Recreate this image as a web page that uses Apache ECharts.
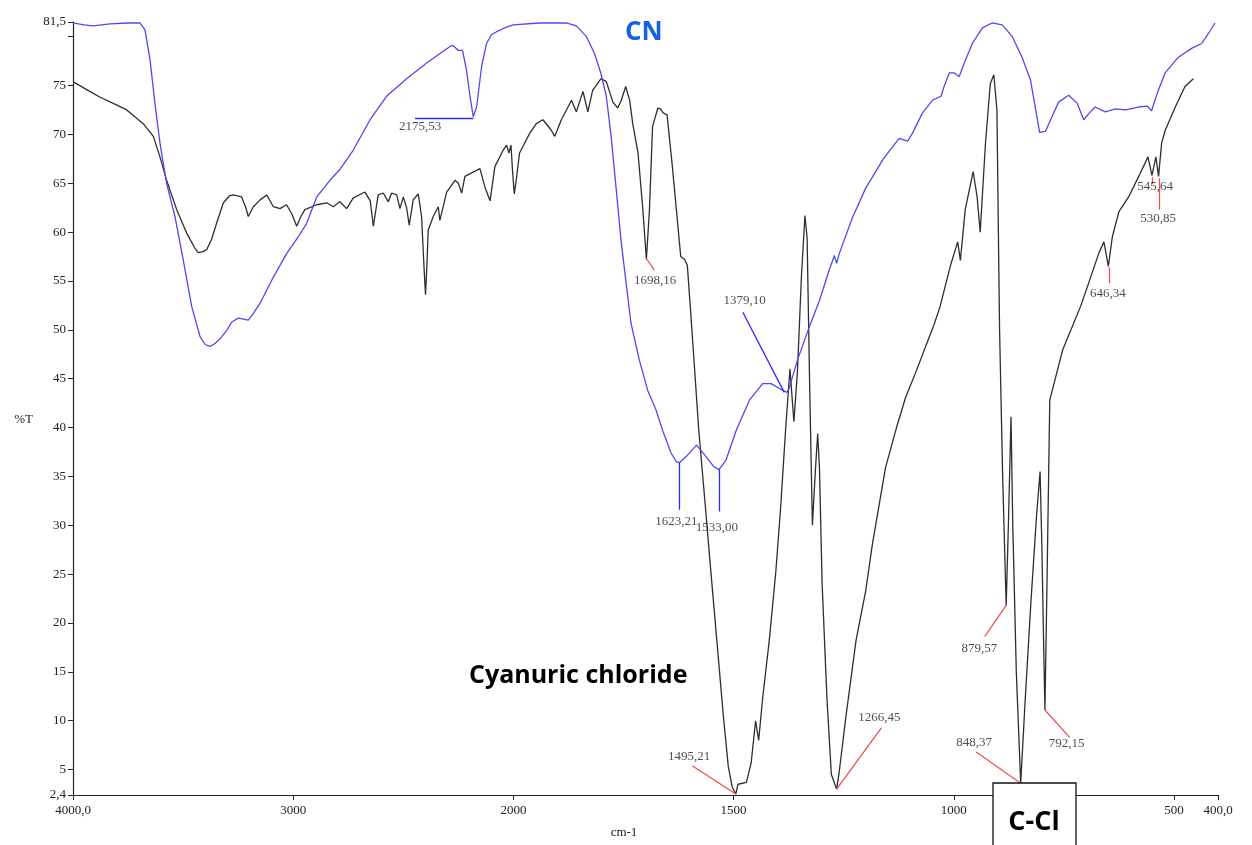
<!DOCTYPE html>
<html>
<head>
<meta charset="utf-8">
<script src="https://cdn.jsdelivr.net/npm/echarts@6/dist/echarts.min.js"></script>
<style>
html,body{margin:0;padding:0;background:#fff;}
#chart{width:1252px;height:845px;}
</style>
</head>
<body>
<div id="chart"></div>
<script>
// ---- Data (wavenumber cm-1, %T) ----
const cnSpectrum = [
[4000,81.4],[3950,81.2],[3909,81.1],[3832,81.3],[3750,81.4],[3696,81.4],[3673,80.7],[3650,77.6],[3628,73.2],[3605,69.1],
[3575,65.0],[3537,61.6],[3499,57.1],[3461,52.4],[3423,49.3],[3400,48.5],[3378,48.3],[3355,48.6],[3332,49.1],[3300,50.0],
[3279,50.8],[3249,51.2],[3225,51.1],[3204,51.0],[3180,51.7],[3151,52.7],[3090,55.4],[3030,57.8],[2977,59.5],[2939,60.9],
[2893,63.6],[2833,65.3],[2788,66.4],[2727,68.4],[2651,71.5],[2576,73.9],[2485,75.7],[2394,77.3],[2288,79.0],[2274,79.1],
[2251,78.6],[2231,78.6],[2213,76.6],[2197,73.9],[2182,71.8],[2167,72.8],[2144,77.0],[2122,79.3],[2100,80.2],[2076,80.5],
[2040,80.9],[2001,81.2],[1941,81.4],[1880,81.4],[1857,81.1],[1834,80.0],[1816,78.3],[1801,76.2],[1789,73.9],[1778,69.8],
[1767,64.6],[1755,58.9],[1744,54.8],[1733,50.7],[1714,46.9],[1695,43.8],[1676,41.8],[1661,39.7],[1642,37.4],[1630,36.5],
[1623,36.4],[1604,37.2],[1584,38.2],[1562,37.0],[1545,36.0],[1533,35.7],[1517,36.7],[1494,39.7],[1464,42.8],[1434,44.5],
[1415,44.5],[1396,44.0],[1379,43.6],[1374,44.0],[1355,46.9],[1328,50.3],[1305,53.0],[1283,56.1],[1271,57.6],[1266,56.8],
[1260,57.8],[1230,61.5],[1200,64.5],[1160,67.5],[1124,69.6],[1105,69.3],[1094,70.1],[1071,72.2],[1048,73.5],[1029,73.9],
[1022,74.9],[1010,76.3],[999,76.3],[988,75.9],[976,77.3],[958,79.3],[935,80.9],[913,81.4],[890,81.2],[867,80.0],
[845,77.9],[826,75.6],[815,72.8],[805,70.2],[792,70.3],[777,71.8],[762,73.3],[739,74.0],[720,73.2],[705,71.5],
[690,72.3],[679,72.8],[656,72.3],[633,72.6],[610,72.5],[580,72.8],[561,72.9],[551,72.4],[538,74.2],[520,76.3],
[490,77.9],[460,78.8],[437,79.3],[422,80.3],[407,81.4]
];

const cyanuricChlorideSpectrum = [
[4000,75.4],[3940,74.6],[3877,73.8],[3800,73.0],[3756,72.5],[3681,71.1],[3635,69.8],[3605,67.7],[3575,65.3],[3529,62.3],
[3484,59.9],[3445,58.3],[3431,57.9],[3410,58.0],[3393,58.2],[3370,59.3],[3348,60.9],[3317,63.0],[3290,63.7],[3272,63.8],
[3234,63.6],[3215,62.5],[3204,61.6],[3181,62.6],[3150,63.3],[3120,63.8],[3090,62.6],[3060,62.4],[3030,62.8],[3005,61.8],
[2984,60.6],[2965,61.6],[2947,62.3],[2893,62.8],[2848,63.0],[2818,62.6],[2788,63.1],[2757,62.4],[2727,63.5],[2674,64.1],
[2650,63.2],[2636,60.6],[2614,63.8],[2591,64.0],[2568,63.1],[2553,64.0],[2530,63.8],[2515,62.4],[2500,63.6],[2485,62.5],
[2473,60.7],[2455,63.3],[2432,63.9],[2417,61.6],[2405,56.0],[2399,53.6],[2392,57.0],[2387,60.2],[2364,61.6],[2341,62.6],
[2334,61.2],[2303,64.1],[2265,65.3],[2250,65.0],[2235,64.0],[2220,65.7],[2152,66.5],[2129,64.6],[2106,63.2],[2084,66.7],
[2046,68.4],[2031,68.9],[2020,68.1],[2011,68.9],[2003,66.0],[1998,63.9],[1993,65.5],[1986,68.1],[1963,70.1],[1948,71.1],
[1933,71.5],[1915,70.5],[1906,69.8],[1891,71.5],[1868,73.5],[1857,72.3],[1842,74.4],[1831,72.3],[1820,74.5],[1801,75.7],
[1789,75.4],[1774,73.3],[1763,72.7],[1755,73.5],[1745,74.9],[1736,73.5],[1729,71.1],[1717,68.1],[1706,62.3],[1698,57.2],
[1691,62.3],[1684,70.8],[1672,72.7],[1666,72.6],[1660,72.2],[1651,72.0],[1639,66.7],[1620,57.5],[1611,57.2],[1605,56.6],
[1594,49.6],[1579,39.7],[1564,31.9],[1553,26.0],[1538,18.2],[1523,10.4],[1512,5.3],[1503,3.2],[1495,2.5],[1490,3.5],
[1471,3.7],[1460,5.7],[1450,10.0],[1443,8.0],[1434,12.3],[1419,18.2],[1404,25.3],[1393,31.9],[1382,39.7],[1372,46.0],
[1363,40.6],[1355,45.7],[1346,55.4],[1338,61.7],[1333,59.4],[1327,43.7],[1321,30.0],[1314,35.8],[1309,39.4],[1305,35.9],
[1299,24.1],[1288,12.3],[1278,4.5],[1266,3.0],[1260,4.8],[1245,10.4],[1222,18.2],[1200,23.3],[1185,28.0],[1155,35.9],
[1130,40.0],[1110,43.0],[1085,45.8],[1064,48.3],[1045,50.5],[1031,52.4],[1008,56.5],[991,59.0],[985,57.1],[974,62.3],
[956,66.2],[947,63.6],[940,60.0],[928,69.1],[917,75.2],[909,76.1],[902,72.5],[896,50.0],[889,35.0],[881,21.8],
[876,30.0],[870,41.1],[866,30.0],[858,15.0],[848,3.6],[838,12.0],[825,22.0],[812,31.0],[804,35.5],[800,28.0],
[796,18.0],[793,11.1],[788,25.0],[782,42.8],[753,47.9],[712,52.4],[686,55.8],[671,57.8],[659,59.0],[649,56.5],
[640,59.5],[625,62.1],[603,63.6],[580,65.7],[559,67.7],[550,65.8],[541,67.7],[535,65.7],[528,69.1],[520,70.4],
[497,72.8],[475,74.9],[456,75.7]
];

// x tick wavenumbers and their printed labels
const xTickWavenumbers = [4000,3000,2000,1500,1000,500,400];
const xTickLabels = ['4000,0','3000','2000','1500','1000','500','400,0'];
// y ticks
const yLabelValues = [2.4,5,10,15,20,25,30,35,40,45,50,55,60,65,70,75,81.5];
const yTickValues = [2.4,5,10,15,20,25,30,35,40,45,50,55,60,65,70,75,80,81.5];

// peak annotations: peak point, leader end, label anchor
const cnPeakLabels = [
  {text:'2175,53', peak:[2182,71.7], end:[2447,71.7], at:[2424,70.8]},
  {text:'1623,21', peak:[1623,36.4], end:[1623,31.6], at:[1630,30.4]},
  {text:'1533,00', peak:[1533,35.7], end:[1533,31.4], at:[1538,29.8]},
  {text:'1379,10', peak:[1385,43.6], end:[1479,51.8], at:[1475,53.0]}
];
const ccPeakLabels = [
  {text:'1698,16', peak:[1698,57.3], end:[1680,56.1], at:[1678,55.0]},
  {text:'1495,21', peak:[1495,2.5], end:[1594,5.4], at:[1601,6.3]},
  {text:'1266,45', peak:[1266,3.0], end:[1164,9.3], at:[1169,10.3]},
  {text:'879,57', peak:[881,21.8], end:[930,18.6], at:[942,17.4]},
  {text:'848,37', peak:[848,3.6], end:[949,6.8], at:[954,7.8]},
  {text:'792,15', peak:[793,11.1], end:[737,8.3], at:[744,7.7]},
  {text:'646,34', peak:[647,56.4], end:[647,54.8], at:[650,53.7]},
  {text:'545,64', peak:[550,65.6], end:[550,64.9], at:[543,64.7]},
  {text:'530,85', peak:[533,65.5], end:[533,62.3], at:[536,61.4]}
];

// ---- Piecewise wavenumber scale (scale change at 2000 cm-1) ----
function toU(wn){ return wn >= 2000 ? (4000 - wn) / 2 : 1000 + (2000 - wn); }
const xTickU = xTickWavenumbers.map(toU);
function fmtComma(v){ return String(v).replace('.', ','); }

const serif = '"Liberation Serif", "DejaVu Serif", serif';

function leaderData(list, color){
  return list.map(m => ({coords:[[toU(m.peak[0]), m.peak[1]],[toU(m.end[0]), m.end[1]]], lineStyle:{color:color}}));
}
function labelData(list){
  return list.map(m => ({name:m.text, value:[toU(m.at[0]), m.at[1]]}));
}

const chart = echarts.init(document.getElementById('chart'), null, {renderer:'canvas'});
chart.setOption({
  animation:false,
  backgroundColor:'#fff',
  grid:{left:73, right:34, top:22, bottom:50, containLabel:false, outerBoundsMode:'none'},
  xAxis:{
    type:'value', min:0, max:2600,
    name:'cm-1', nameLocation:'middle', nameGap:31,
    nameTextStyle:{fontFamily:serif, fontSize:13, color:'#222', padding:[0,43,0,0]},
    axisLine:{show:true, onZero:false, lineStyle:{color:'#222', width:1.2}},
    axisTick:{show:true, length:5, customValues:xTickU, lineStyle:{color:'#222'}},
    axisLabel:{customValues:xTickU, margin:9, fontFamily:serif, fontSize:13, color:'#222',
      formatter:function(v){ const i = xTickU.indexOf(v); return i >= 0 ? xTickLabels[i] : ''; }},
    splitLine:{show:false}
  },
  yAxis:{
    type:'value', min:2.4, max:81.5,
    name:'%T', nameLocation:'middle', nameRotate:0, nameGap:40,
    nameTextStyle:{fontFamily:serif, fontSize:13, color:'#222', verticalAlign:'top', lineHeight:22},
    axisLine:{show:true, lineStyle:{color:'#222', width:1.2}},
    axisTick:{show:true, length:5, customValues:yTickValues, lineStyle:{color:'#222'}},
    axisLabel:{customValues:yLabelValues, margin:7, fontFamily:serif, fontSize:13, color:'#222',
      formatter:function(v){ return fmtComma(v); }},
    splitLine:{show:false}
  },
  series:[
    {name:'Cyanuric chloride', type:'line', showSymbol:false, symbol:'none', z:2,
     lineStyle:{color:'#2e2e2e', width:1.3},
     data: cyanuricChlorideSpectrum.map(p => [toU(p[0]), p[1]])},
    {name:'CN', type:'line', showSymbol:false, symbol:'none', z:3,
     lineStyle:{color:'#4b4bef', width:1.3},
     data: cnSpectrum.map(p => [toU(p[0]), p[1]])},
    {type:'lines', coordinateSystem:'cartesian2d', z:4, silent:true,
     lineStyle:{width:1.3, opacity:1},
     data: leaderData(cnPeakLabels, '#2a2aff').concat(leaderData(ccPeakLabels, '#f05050'))},
    {type:'scatter', z:5, silent:true, symbolSize:1,
     itemStyle:{color:'rgba(0,0,0,0)'},
     label:{show:true, position:'inside', formatter:'{b}', fontFamily:serif, fontSize:13, color:'#222'},
     data: labelData(cnPeakLabels).concat(labelData(ccPeakLabels))}
  ],
  graphic:[
    {type:'text', left:625, top:20, style:{text:'CN', fill:'#1560e8', font:'bold 26px "Open Sans", "Noto Sans", sans-serif'}},
    {type:'text', left:469, top:663, style:{text:'Cyanuric chloride', fill:'#000', font:'bold 25px "Open Sans", "Noto Sans", sans-serif'}},
    {type:'rect', shape:{x:993, y:783, width:83, height:70}, style:{fill:'#fff', stroke:'#111', lineWidth:1.3}, z:10},
    {type:'text', x:1034, y:822, z:11, style:{text:'C-Cl', fill:'#000', align:'center', verticalAlign:'middle', font:'bold 27px "Open Sans", "Noto Sans", sans-serif'}}
  ]
});
</script>
</body>
</html>
